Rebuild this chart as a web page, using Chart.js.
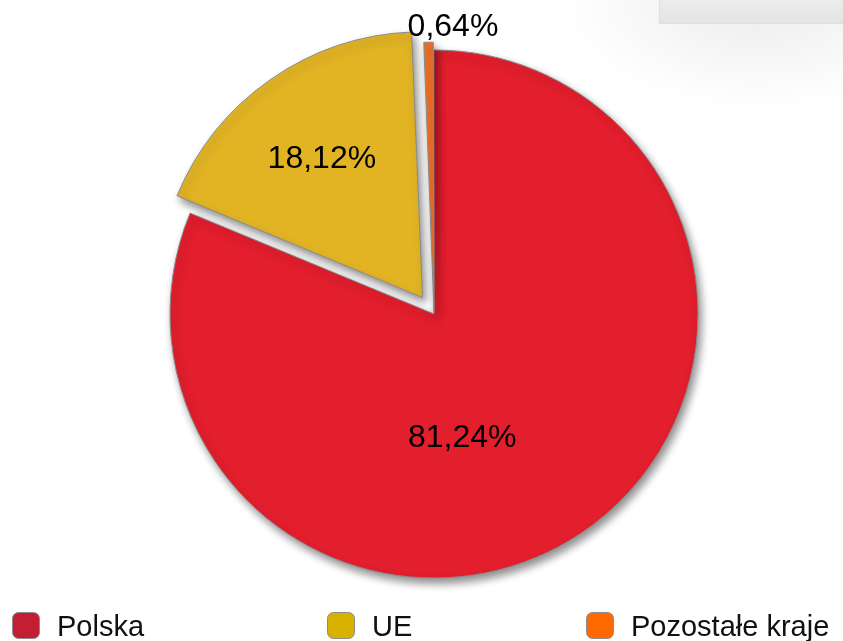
<!DOCTYPE html>
<html>
<head>
<meta charset="utf-8">
<script src="https://cdn.jsdelivr.net/npm/chart.js@4/dist/chart.umd.min.js"></script>
<style>
  html,body{margin:0;padding:0;background:#fff;}
  #wrap{position:relative;width:843px;height:641px;overflow:hidden;}
  #deco{position:absolute;left:659px;top:0;width:184px;height:23px;background:linear-gradient(#ececec,#e4e4e4);border-bottom:1px solid #dedede;border-left:1px solid #dedede;}
  #glow{position:absolute;left:560px;top:0;width:283px;height:110px;background:radial-gradient(ellipse at 70% 0%,rgba(228,228,228,0.7),rgba(255,255,255,0) 70%);}
  canvas{position:absolute;left:0;top:0;}
</style>
</head>
<body>
<div id="wrap">
  <div id="glow"></div>
  <div id="deco"></div>
  <canvas id="c" width="843" height="641"></canvas>
</div>
<script>
const categories = ["Polska", "UE", "Pozostałe kraje"];
const shares = [81.24, 18.12, 0.64];
const sliceColors = ["#E31E2D", "#E2B424", "#F07028"];
const legendColors = ["#C41E34", "#D9B100", "#FF6A00"];
const sliceOffsets = [0, 80, 16];

// label placement: fraction of radius, angle shift (deg)
const labelRadius = [0.483, 0.647, 1.075];
const labelShift = [21, -1.2, 5];

function byId(id){return document.getElementById(id);}
function fmt(v){return v.toFixed(2).replace(".", ",") + "%";}
const FONT = '"Liberation Sans", Arial, sans-serif';

const shadowPlugin = {
  id: "shadow",
  beforeDatasetsDraw(chart){
    const ctx = chart.ctx;
    ctx.save();
    ctx.shadowColor = "rgba(0,0,0,0.45)";
    ctx.shadowBlur = 9;
    ctx.shadowOffsetX = 3;
    ctx.shadowOffsetY = 5;
  },
  afterDatasetsDraw(chart){
    chart.ctx.restore();
  }
};

const labelPlugin = {
  id: "labels",
  afterDatasetsDraw(chart){
    const ctx = chart.ctx;
    const meta = chart.getDatasetMeta(0);
    ctx.save();
    ctx.fillStyle = "#000";
    ctx.font = "32px " + FONT;
    ctx.textAlign = "center";
    ctx.textBaseline = "middle";
    meta.data.forEach((arc, i)=>{
      const p = arc.getProps(["x","y","startAngle","endAngle","outerRadius"], true);
      const mid = (p.startAngle + p.endAngle)/2;
      const tr = (arc.options.offset||0)/4;
      const a = mid + labelShift[i]*Math.PI/180;
      const x = p.x + Math.cos(mid)*tr + Math.cos(a)*p.outerRadius*labelRadius[i];
      const y = p.y + Math.sin(mid)*tr + Math.sin(a)*p.outerRadius*labelRadius[i];
      ctx.fillText(fmt(shares[i]), x, y);
    });
    ctx.restore();
  }
};

const legendPlugin = {
  id: "legendRow",
  afterDraw(chart){
    const ctx = chart.ctx;
    const boxX = [12, 327, 586];
    ctx.save();
    ctx.font = "29px " + FONT;
    ctx.textBaseline = "alphabetic";
    categories.forEach((c, i)=>{
      ctx.beginPath();
      ctx.roundRect(boxX[i]+0.5, 612.5, 27, 26, 6);
      ctx.fillStyle = legendColors[i];
      ctx.fill();
      ctx.strokeStyle = "#8c8c8c";
      ctx.lineWidth = 1;
      ctx.stroke();
      ctx.fillStyle = "#111";
      ctx.fillText(c, boxX[i] + 45, 636);
    });
    ctx.restore();
  }
};

new Chart(byId("c"), {
  type: "pie",
  data: {
    labels: categories,
    datasets: [{
      data: shares,
      backgroundColor: sliceColors,
      borderColor: "#8a8a8a",
      borderWidth: 1,
      offset: sliceOffsets,
      radius: 264
    }]
  },
  options: {
    responsive: false,
    animation: false,
    layout: { padding: { left: 25, right: 0, top: 0, bottom: 13 } },
    plugins: { legend: { display: false }, tooltip: { enabled: false } }
  },
  plugins: [shadowPlugin, labelPlugin, legendPlugin]
});
</script>
</body>
</html>
